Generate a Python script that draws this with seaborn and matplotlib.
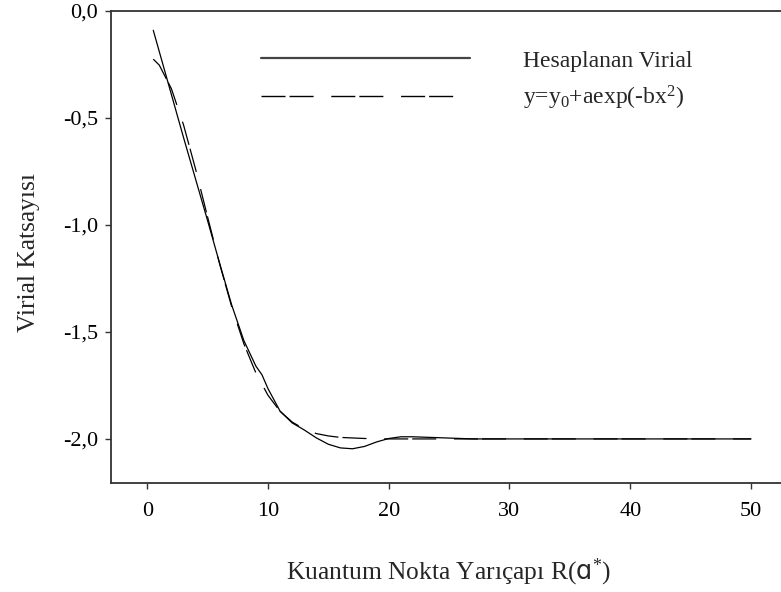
import numpy as np
import pandas as pd
import matplotlib
matplotlib.use("Agg")
import matplotlib.pyplot as plt
import seaborn as sns
from matplotlib.lines import Line2D

# ---- data ----
calc_x = [0.5, 1, 2, 3, 4, 5, 6, 7, 8, 9, 9.5, 10, 11, 12, 13, 14, 15, 16, 17, 18, 19, 20, 21, 22, 23, 25, 27, 30, 35, 40, 45, 50]
calc_y = [-0.09, -0.19, -0.39, -0.59, -0.785, -0.98, -1.18, -1.375, -1.54, -1.66, -1.70, -1.765, -1.87, -1.925, -1.958, -1.995, -2.025, -2.042, -2.046, -2.035, -2.014, -1.998, -1.990, -1.990, -1.992, -1.996, -2.0, -2.0, -2.0, -2.0, -2.0, -2.0]

fit_x = [0.5, 1, 2, 3, 4, 5, 6, 7, 8, 9, 10, 11, 12, 13, 14, 15, 16, 18, 20, 25, 30, 35, 40, 45, 50]
fit_y = [-0.225, -0.253, -0.363, -0.531, -0.738, -0.963, -1.183, -1.383, -1.555, -1.692, -1.796, -1.871, -1.921, -1.954, -1.975, -1.986, -1.993, -1.998, -2.0, -2.0, -2.0, -2.0, -2.0, -2.0, -2.0]

series_names = ["Hesaplanan Virial", "y=y$_0$+aexp(-bx$^2$)"]
x_ticks = [0, 10, 20, 30, 40, 50]
y_ticks = [0.0, -0.5, -1.0, -1.5, -2.0]
y_tick_labels = ["0,0", "-0,5", "-1,0", "-1,5", "-2,0"]
x_label = "Kuantum Nokta Yarıçapı R($\\mathsf{ɑ}^{*}$)"
y_label = "Virial Katsayısı"

sns.set_style("ticks")
plt.rcParams["font.family"] = ["Liberation Serif", "DejaVu Sans"]
plt.rcParams["mathtext.fontset"] = "custom"
plt.rcParams["mathtext.rm"] = "Liberation Serif"
plt.rcParams["mathtext.it"] = "Liberation Serif:italic"
plt.rcParams["mathtext.bf"] = "Liberation Serif:bold"
plt.rcParams["mathtext.sf"] = "DejaVu Sans"
plt.rcParams["lines.scale_dashes"] = False

fs_tick = 16
fs_leg = 17
fs_lab = 18.4
fig = plt.figure(figsize=(7.81, 5.92), dpi=100)
ax = fig.add_axes([111/781, 1-483/592, (785-111)/781, (483-11)/592])

df_calc = pd.DataFrame({"x": calc_x, "y": calc_y})
df_fit = pd.DataFrame({"x": fit_x, "y": fit_y})
dash = (0, (17.3, 2.9, 17.3, 12.75))
sns.lineplot(data=df_calc, x="x", y="y", ax=ax, color="black", lw=0.9, sort=False)
sns.lineplot(data=df_fit, x="x", y="y", ax=ax, color="black", lw=0.9, linestyle=dash, sort=False)

ax.set_xlim(-3, (785-147)/12.08)
ax.set_ylim(-2.206, 0)
ax.set_xticks(x_ticks)
ax.set_xticklabels([str(v) for v in x_ticks])
ax.set_yticks(y_ticks)
ax.set_yticklabels(y_tick_labels)

for s in ["left", "top", "bottom"]:
    ax.spines[s].set_color("#333333")
    ax.spines[s].set_linewidth(1.3)
ax.spines["right"].set_visible(False)
ax.tick_params(axis="both", direction="out", length=4.5, width=1.0, colors="#333333",
               labelsize=fs_tick, labelcolor="black")
ax.tick_params(axis="x", pad=9)
ax.tick_params(axis="y", pad=5)

ax.set_xlabel(x_label, fontsize=fs_lab)
ax.xaxis.set_label_coords(448/781, 1-557/592, transform=fig.transFigure)
ax.set_ylabel(y_label, fontsize=fs_lab)
ax.yaxis.set_label_coords(40/781, 1-252/592, transform=fig.transFigure)

handles = [Line2D([], [], color="#444444", lw=1.6),
           Line2D([], [], color="black", lw=1.0, linestyle=dash)]
leg = ax.legend(handles, series_names, loc="upper left", bbox_to_anchor=(261/781, 1-50/592),
                bbox_transform=fig.transFigure, frameon=False, fontsize=fs_leg,
                handlelength=8.85, handletextpad=2.25, labelspacing=0.5, borderpad=0, borderaxespad=0)

fig.savefig("out.png", dpi=100)
